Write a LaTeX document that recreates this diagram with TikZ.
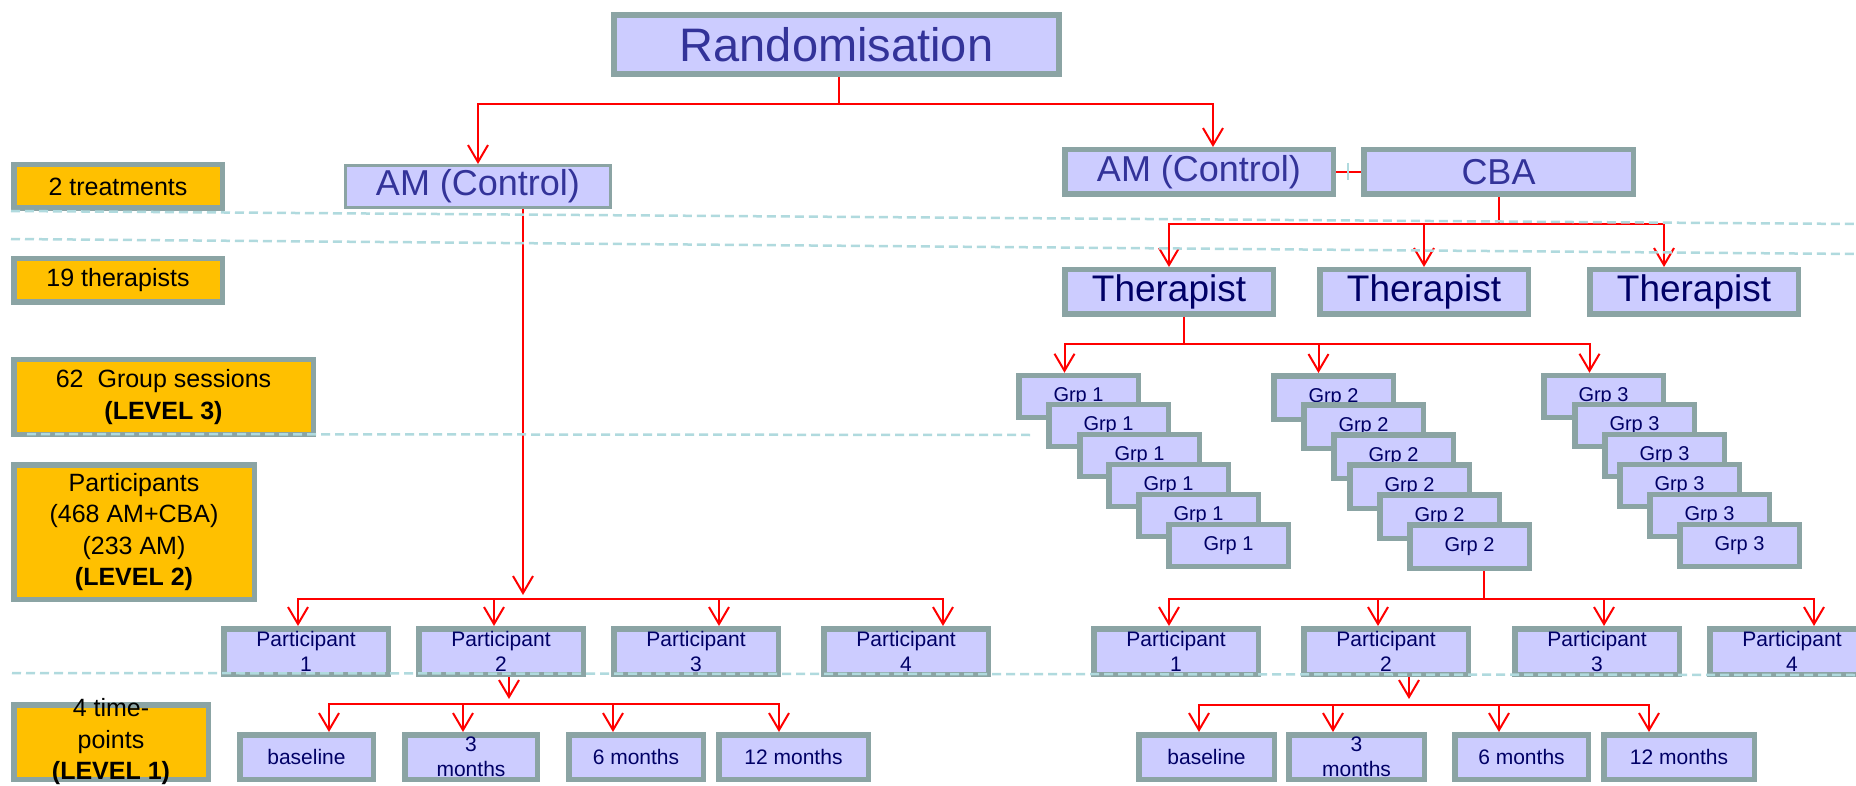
\documentclass[tikz,border=0pt]{standalone}
\usepackage{fontspec}
\setmainfont{Liberation Sans}
\usetikzlibrary{arrows.meta}
\definecolor{bordc}{RGB}{139,164,164}
\definecolor{boxfill}{RGB}{204,204,255}
\definecolor{yellowc}{RGB}{255,192,0}
\definecolor{dashc}{RGB}{176,218,222}
\definecolor{titlec}{RGB}{51,51,153}
\definecolor{navyc}{RGB}{0,0,102}
\newcommand\myfs[2]{\fontsize{#1}{#2}\selectfont}
\begin{document}
\begin{tikzpicture}[x=1pt,y=-1pt,
  box/.style={draw=bordc, fill=boxfill, line width=5.5pt, inner sep=0pt},
  ybox/.style={box, fill=yellowc},
  ytext/.style={font=\myfs{25}{31.5}, text=black, align=center, inner sep=0pt},
  ttext/.style={font=\myfs{36}{40}, text=titlec},
  thtext/.style={font=\myfs{37}{40}, text=navyc},
  gbox/.style={box, minimum width=119.5pt, minimum height=42pt, font=\myfs{20}{24}, text=navyc},
  pbox/.style={box, minimum width=164.5pt, minimum height=45.5pt},
  ptext/.style={font=\myfs{21}{25}, text=navyc, align=center, inner sep=0pt},
  tbox/.style={box, minimum height=44.5pt},
  rl/.style={draw=red, line width=2pt},
  ar/.style={rl, -{Straight Barb[length=17pt,width=20pt]}},
  dl/.style={draw=dashc, line width=2.5pt, dash pattern=on 9pt off 5pt},
  tickl/.style={draw=dashc, line width=1.5pt}
]
\useasboundingbox[fill=white] (0,0) rectangle (1856,786);

% ---------- left legend ----------
\node[ybox, minimum width=208.5pt, minimum height=43.5pt,
  label={[ytext]center:2 treatments}] (y1) at (118,186.5) {};
\node[ybox, minimum width=208.5pt, minimum height=43.5pt,
  label={[ytext]center:19 therapists}] (y2) at (118,280.5) {};
\node[ybox, minimum width=299.5pt, minimum height=74.5pt,
  label={[ytext]center:{62\hspace{14pt}Group sessions\\\textbf{(LEVEL 3)}}}] (y3) at (163.5,397) {};
\node[ybox, minimum width=240.5pt, minimum height=134.5pt,
  label={[ytext]center:{Participants\\(468 AM+CBA)\\(233 AM)\\\textbf{(LEVEL 2)}}}] (y4) at (134,532) {};
\node[ybox, minimum width=194.5pt, minimum height=74.5pt,
  label={[ytext]center:{4 time-\\points\\\textbf{(LEVEL 1)}}}] (y5) at (111,742) {};

% ---------- top ----------
\node[box, line width=6pt, minimum width=445pt, minimum height=59pt,
  font=\myfs{47}{50}, text=titlec] (rand) at (836.5,44.5) {Randomisation};
\node[box, line width=3pt, minimum width=265pt, minimum height=42pt, ttext] (amL) at (478,186.5) {AM (Control)};
\node[box, minimum width=268.5pt, minimum height=44.5pt, ttext] (amR) at (1199,172) {AM (Control)};
\node[box, minimum width=269.5pt, minimum height=44.5pt, ttext] (cba) at (1498.5,172) {CBA};

% ---------- therapists ----------
\node[box, minimum width=208.5pt, minimum height=44.5pt, thtext] (t1) at (1169,292) {Therapist};
\node[box, minimum width=208.5pt, minimum height=44.5pt, thtext] (t2) at (1424,292) {Therapist};
\node[box, minimum width=208.5pt, minimum height=44.5pt, thtext] (t3) at (1694,292) {Therapist};

% ---------- group stacks ----------
\node[gbox] (g11) at (1078.5,396.5) {Grp 1};
\node[gbox] (g12) at (1108.5,425.5) {Grp 1};
\node[gbox] (g13) at (1139.5,455.5) {Grp 1};
\node[gbox] (g14) at (1168.5,485.5) {Grp 1};
\node[gbox] (g15) at (1198.5,515.5) {Grp 1};
\node[gbox] (g16) at (1228.5,545.5) {Grp 1};

\node[gbox, minimum height=43.5pt] (g21) at (1333.5,397.5) {Grp 2};
\node[gbox, minimum height=43.5pt] (g22) at (1363.5,426.5) {Grp 2};
\node[gbox, minimum height=43.5pt] (g23) at (1393.5,456.5) {Grp 2};
\node[gbox, minimum height=43.5pt] (g24) at (1409.5,486.5) {Grp 2};
\node[gbox, minimum height=43.5pt] (g25) at (1439.5,516.5) {Grp 2};
\node[gbox, minimum height=43.5pt] (g26) at (1469.5,546.5) {Grp 2};

\node[gbox] (g31) at (1603.5,396.5) {Grp 3};
\node[gbox] (g32) at (1634.5,425.5) {Grp 3};
\node[gbox] (g33) at (1664.5,455.5) {Grp 3};
\node[gbox] (g34) at (1679.5,485.5) {Grp 3};
\node[gbox] (g35) at (1709.5,515.5) {Grp 3};
\node[gbox] (g36) at (1739.5,545.5) {Grp 3};

% ---------- participants ----------
\node[pbox, label={[ptext]center:{Participant\\1}}] (lp1) at (306,651.5) {};
\node[pbox, label={[ptext]center:{Participant\\2}}] (lp2) at (501,651.5) {};
\node[pbox, label={[ptext]center:{Participant\\3}}] (lp3) at (696,651.5) {};
\node[pbox, label={[ptext]center:{Participant\\4}}] (lp4) at (906,651.5) {};
\node[pbox, label={[ptext]center:{Participant\\1}}] (rp1) at (1176,651.5) {};
\node[pbox, label={[ptext]center:{Participant\\2}}] (rp2) at (1386,651.5) {};
\node[pbox, label={[ptext]center:{Participant\\3}}] (rp3) at (1597,651.5) {};
\node[pbox, label={[ptext]center:{Participant\\4}}] (rp4) at (1792,651.5) {};

% ---------- time points ----------
\node[tbox, minimum width=133.5pt, label={[ptext]center:baseline}] (lt1) at (306.5,757) {};
\node[tbox, minimum width=132.5pt, label={[ptext]center:{3\\months}}] (lt2) at (471,757) {};
\node[tbox, minimum width=134.5pt, label={[ptext]center:6 months}] (lt3) at (636,757) {};
\node[tbox, minimum width=149.5pt, label={[ptext]center:12 months}] (lt4) at (793.5,757) {};
\node[tbox, minimum width=135.5pt, label={[ptext]center:baseline}] (rt1) at (1206.5,757) {};
\node[tbox, minimum width=135.5pt, label={[ptext]center:{3\\months}}] (rt2) at (1356.5,757) {};
\node[tbox, minimum width=133.5pt, label={[ptext]center:6 months}] (rt3) at (1521.5,757) {};
\node[tbox, minimum width=150.5pt, label={[ptext]center:12 months}] (rt4) at (1679,757) {};

% ---------- connector coordinates ----------
\coordinate (rb) at (839,104);
\coordinate (cb) at (1498.5,224);
\coordinate (tb) at (1184,344);
\coordinate (gb) at (1484,599);
\coordinate (lbe) at (523,595);
\coordinate (lb) at (523,599);
\coordinate (ltbe) at (509,699);
\coordinate (ltb) at (509,704);
\coordinate (rtbe) at (1409,699);
\coordinate (rtb) at (1409,705);
\coordinate (tk1) at (1348,163);
\coordinate (tk2) at (1348,180);

% ---------- connectors ----------
\draw[rl] (rand.south -| rb) -- (rb);
\draw[ar] (rb) -| (amL.north);
\draw[ar] (rb) -| ([xshift=14pt]amR.north);
\draw[rl] (amR.east) -- (cba.west);
\draw[tickl] (tk1) -- (tk2);

\draw[rl] (cba.south) -- (cb);
\draw[ar] (cb) -| (t1.north);
\draw[ar] (cb) -| (t2.north);
\draw[ar] (cb) -| ([xshift=-30pt]t3.north);

\draw[rl] ([xshift=15pt]t1.south) -- (tb);
\draw[ar] (tb) -| ([xshift=-14pt]g11.north);
\draw[ar] (tb) -| ([xshift=-15pt]g21.north);
\draw[ar] (tb) -| ([xshift=-14pt]g31.north);

\draw[rl] ([xshift=14.5pt]g26.south) -- (gb);
\draw[ar] (gb) -| ([xshift=-7pt]rp1.north);
\draw[ar] (gb) -| ([xshift=-8pt]rp2.north);
\draw[ar] (gb) -| ([xshift=7pt]rp3.north);
\draw[ar] (gb) -| ([xshift=22pt]rp4.north);

\draw[ar] ([xshift=45pt]amL.south) -- (lbe);
\draw[ar] (lb) -| ([xshift=-8pt]lp1.north);
\draw[ar] (lb) -| ([xshift=-7pt]lp2.north);
\draw[ar] (lb) -| ([xshift=23pt]lp3.north);
\draw[ar] (lb) -| ([xshift=37pt]lp4.north);

\draw[ar] ([xshift=8pt]lp2.south) -- (ltbe);
\draw[ar] (ltb) -| ([xshift=22.5pt]lt1.north);
\draw[ar] (ltb) -| ([xshift=-8pt]lt2.north);
\draw[ar] (ltb) -| ([xshift=-23pt]lt3.north);
\draw[ar] (ltb) -| ([xshift=-14.5pt]lt4.north);

\draw[ar] ([xshift=23pt]rp2.south) -- (rtbe);
\draw[ar] (rtb) -| ([xshift=-7.5pt]rt1.north);
\draw[ar] (rtb) -| ([xshift=-23.5pt]rt2.north);
\draw[ar] (rtb) -| ([xshift=-22.5pt]rt3.north);
\draw[ar] (rtb) -| ([xshift=-30pt]rt4.north);

% ---------- dashed level lines ----------
\draw[dl] (11,211) -- (1856,224);
\draw[dl] (11,239) -- (1856,254);
\draw[dl] (27,434) -- (1030,435);
\draw[dl] (12,673) -- (1856,675);
\end{tikzpicture}
\end{document}
